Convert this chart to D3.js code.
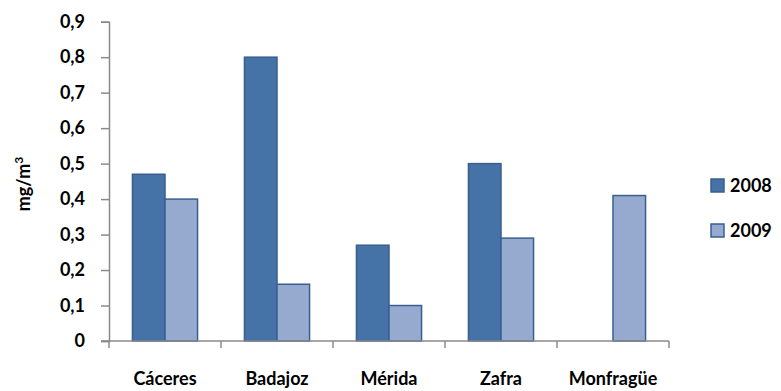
<!DOCTYPE html>
<html>
<head>
<meta charset="utf-8">
<script src="https://cdn.jsdelivr.net/npm/d3@7"></script>
<style>
  html, body { margin: 0; padding: 0; background: #fff; }
  svg text { font-family: Lato, "Open Sans", sans-serif; font-weight: 700; fill: #000; }
</style>
</head>
<body>
<svg id="chart" width="781" height="391"></svg>
<script>
// Concentrations by station (mg/m³)
const categories = ["Cáceres", "Badajoz", "Mérida", "Zafra", "Monfragüe"];
const seriesNames = ["2008", "2009"];
const values2008 = [0.47, 0.80, 0.27, 0.50, null];
const values2009 = [0.40, 0.16, 0.10, 0.29, 0.41];
const yTicks = [0, 0.1, 0.2, 0.3, 0.4, 0.5, 0.6, 0.7, 0.8, 0.9];

const fills = { "2008": "#4572A7", "2009": "#96AAD0" };
const strokeCol = "#3A5F8E";
const axisCol = "#8A8A8A";
const fontSize = "18px";

const svg = d3.select("#chart");
const plot = { left: 109, right: 669, top: 21.7, bottom: 341 };

const x0 = d3.scaleBand().domain(categories).range([plot.left, plot.right]).padding(0);
const x1 = d3.scaleBand().domain(seriesNames).range([0, x0.bandwidth()]).paddingInner(0).paddingOuter(0.72);
const y = d3.scaleLinear().domain([0, 0.9]).range([plot.bottom, plot.top]);

const seriesData = { "2008": values2008, "2009": values2009 };

// Bars
seriesNames.forEach(s => {
  svg.append("g").selectAll("rect")
    .data(categories.map((c, i) => ({ c, v: seriesData[s][i] })).filter(d => d.v != null))
    .join("rect")
    .attr("x", d => x0(d.c) + x1(s))
    .attr("y", d => y(d.v))
    .attr("width", x1.bandwidth())
    .attr("height", d => plot.bottom - y(d.v))
    .attr("fill", fills[s])
    .attr("stroke", strokeCol)
    .attr("stroke-width", 1.5);
});

// Y axis
const yAxis = svg.append("g").attr("transform", `translate(${plot.left},0)`)
  .call(d3.axisLeft(y).tickValues(yTicks).tickSize(8).tickPadding(16)
    .tickFormat(d => d === 0 ? "0" : d3.format(".1f")(d).replace(".", ",")));
yAxis.select(".domain").attr("stroke", axisCol).attr("stroke-width", 1.5);
yAxis.selectAll(".tick line").attr("stroke", axisCol).attr("stroke-width", 1.5);
yAxis.selectAll(".tick text").style("font-size", fontSize).style("font-family", "Lato, sans-serif").style("font-weight", 700).attr("fill", "#000");

// X axis with ticks at category boundaries
const xg = svg.append("g");
xg.append("line")
  .attr("x1", plot.left - 8).attr("x2", plot.right)
  .attr("y1", plot.bottom).attr("y2", plot.bottom)
  .attr("stroke", axisCol).attr("stroke-width", 1.5);
const edges = categories.map(c => x0(c)).concat([plot.right]);
xg.selectAll("line.edge").data(edges).join("line").attr("class", "edge")
  .attr("x1", d => d).attr("x2", d => d)
  .attr("y1", plot.bottom).attr("y2", plot.bottom + 7)
  .attr("stroke", axisCol).attr("stroke-width", 1.5);
xg.selectAll("text").data(categories).join("text")
  .attr("x", d => x0(d) + x0.bandwidth() / 2)
  .attr("y", 385)
  .attr("text-anchor", "middle")
  .style("font-size", fontSize)
  .text(d => d);

// Y axis title
const yt = svg.append("text")
  .attr("transform", "translate(30,184) rotate(-90)")
  .attr("text-anchor", "middle")
  .style("font-size", "18px");
yt.append("tspan").text("mg/m");
yt.append("tspan").attr("dy", -7).style("font-size", "12px").text("3");

// Legend
const legend = svg.append("g");
seriesNames.forEach((s, i) => {
  const ly = 179 + i * 45;
  legend.append("rect")
    .attr("x", 711).attr("y", ly).attr("width", 13).attr("height", 13)
    .attr("fill", fills[s]).attr("stroke", strokeCol).attr("stroke-width", 1.5);
  legend.append("text")
    .attr("x", 730).attr("y", ly + 13)
    .style("font-size", fontSize)
    .text(s);
});
</script>
</body>
</html>
